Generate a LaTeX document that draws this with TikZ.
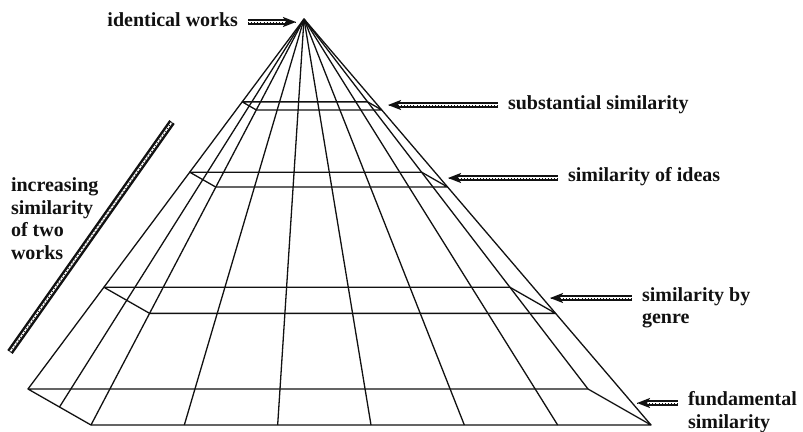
\documentclass[tikz,border=0pt]{standalone}
\usepackage{fontspec}
\setmainfont{Liberation Serif}
\usepackage{tikz}
\usetikzlibrary{arrows.meta,calc,positioning}
\definecolor{ink}{HTML}{111111}
\tikzset{
    wire/.style={draw=ink, line width=1.3pt, line join=round},
    label_text/.style={font=\rmfamily\bfseries\fontsize{20}{22.5}\selectfont, text=ink, inner sep=0pt, outer sep=0pt, align=left},
    pointer/.style={-{Stealth[length=13pt, width=10pt, inset=3pt]}, draw=ink, line width=1.9pt, double=white, double distance=1.8pt, shorten <=10pt,
        postaction={draw=ink, -, line width=0.9pt, dash pattern=on 0.9pt off 2.2pt}},
    trend_bar/.style={draw=ink, line width=2.5pt, double=white, double distance=1.6pt,
        postaction={draw=ink, line width=0.9pt, dash pattern=on 0.9pt off 2.6pt}}
}

\begin{document}
\begin{tikzpicture}[x=1pt, y=-1pt]

  \useasboundingbox (0,0) rectangle (803,431);

  % Pyramid corners
  \coordinate (apex) at (304,19);
  \coordinate (base_bl) at (28,389);
  \coordinate (base_br) at (588,389);
  \coordinate (base_fl) at (91,425);
  \coordinate (base_fr) at (651,425);

  % Rays from the apex
  \foreach \k in {0,...,6}
    \draw[wire] (apex) -- ($(base_fl)!\k/6!(base_fr)$);
  \draw[wire] (apex) -- (base_bl);
  \draw[wire] (apex) -- (base_br);
  \draw[wire] (apex) -- ($(base_bl)!0.5!(base_fl)$);

  % Horizontal levels
  \foreach \s in {0.224, 0.414, 0.725, 1}
    \draw[wire] ($(apex)!\s!(base_bl)$) -- ($(apex)!\s!(base_br)$)
      -- ($(apex)!\s!(base_fr)$) -- ($(apex)!\s!(base_fl)$) -- cycle;

  % Labels (base = baseline of the last line)
  \node[label_text, anchor=base east] (lbl_ident) at (238,27) {identical works};
  \node[label_text, anchor=base west] (lbl_subst) at (508,109) {substantial similarity};
  \node[label_text, anchor=base west] (lbl_ideas) at (568,181) {similarity of ideas};
  \node[label_text, anchor=base west] (lbl_genre) at (642,323.5) {similarity by\\genre};
  \node[label_text, anchor=base west] (lbl_fund) at (688,428) {fundamental\\similarity};
  \node[label_text, anchor=base west] (lbl_trend) at (11,259) {increasing\\similarity\\of two\\works};

  % Arrow tips
  \coordinate (tip_ident) at (296,22);
  \coordinate (tip_subst) at (388,105);
  \coordinate (tip_ideas) at (448,178);
  \coordinate (tip_genre) at (550,298);
  \coordinate (tip_fund) at (637,403);

  \draw[pointer] (lbl_ident.east |- tip_ident) -- (tip_ident);
  \draw[pointer] (lbl_subst.west |- tip_subst) -- (tip_subst);
  \draw[pointer] (lbl_ideas.west |- tip_ideas) -- (tip_ideas);
  \draw[pointer] (lbl_genre.west |- tip_genre) -- (tip_genre);
  \draw[pointer] (lbl_fund.west |- tip_fund) -- (tip_fund);

  % Increasing similarity bar
  \coordinate (trend_lo) at (10,352);
  \coordinate (trend_hi) at (172,122);
  \draw[trend_bar] (trend_lo) -- (trend_hi);

\end{tikzpicture}
\end{document}
